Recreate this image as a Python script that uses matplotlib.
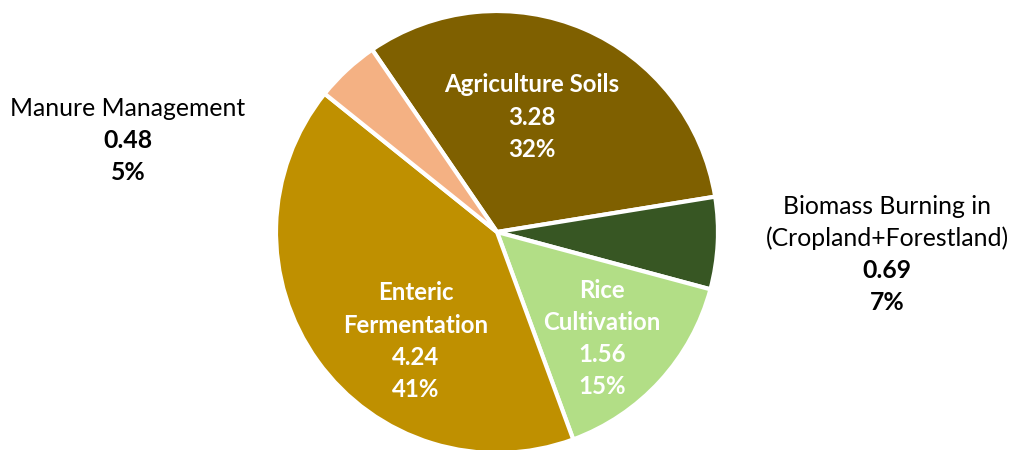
import matplotlib
matplotlib.use("Agg")
import matplotlib.pyplot as plt

plt.rcParams['font.family'] = ['Lato', 'DejaVu Sans']

# emission sources (clockwise from the top)
sources = ["Agriculture Soils", "Biomass Burning in\n(Cropland+Forestland)",
           "Rice\nCultivation", "Enteric\nFermentation", "Manure Management"]
emissions = [3.28, 0.69, 1.56, 4.24, 0.48]
shares = ["32%", "7%", "15%", "41%", "5%"]
colors = ["#7F6000", "#375623", "#B2DE86", "#BF9000", "#F4B183"]

# label placement: (x, y of first line, inside the slice?)
label_pos = [(532, 85, True), (887, 206, False), (602, 290, True),
             (416, 293, True), (128, 108, False)]

W, H = 1011, 450
fig = plt.figure(figsize=(W / 100, H / 100), dpi=100)
ax = fig.add_axes([0, 0, 1, 1])
ax.set_xlim(0, W)
ax.set_ylim(0, H)
ax.set_aspect('equal')
ax.axis('off')

ax.pie(emissions, colors=colors, startangle=124.4, counterclock=False,
       center=(497, H - 232), radius=221,
       wedgeprops=dict(edgecolor='white', linewidth=3))
ax.set_xlim(0, W)
ax.set_ylim(0, H)

step = 32.3
for name, val, pct, (x, y, inside) in zip(sources, emissions, shares, label_pos):
    lines = name.split("\n")
    col = 'white' if inside else 'black'
    name_w = 'bold' if inside else 'normal'
    fs = 17.3 if inside else 17.8
    for i, ln in enumerate(lines):
        ax.text(x, H - (y + i * step), ln, ha='center', va='center',
                fontsize=fs, color=col, fontweight=name_w)
    n = len(lines)
    ax.text(x, H - (y + n * step), f"{val:.2f}", ha='center', va='center',
            fontsize=fs, color=col, fontweight='bold')
    ax.text(x, H - (y + (n + 1) * step), pct, ha='center', va='center',
            fontsize=fs, color=col, fontweight='bold')

fig.savefig("out.png", dpi=100)
